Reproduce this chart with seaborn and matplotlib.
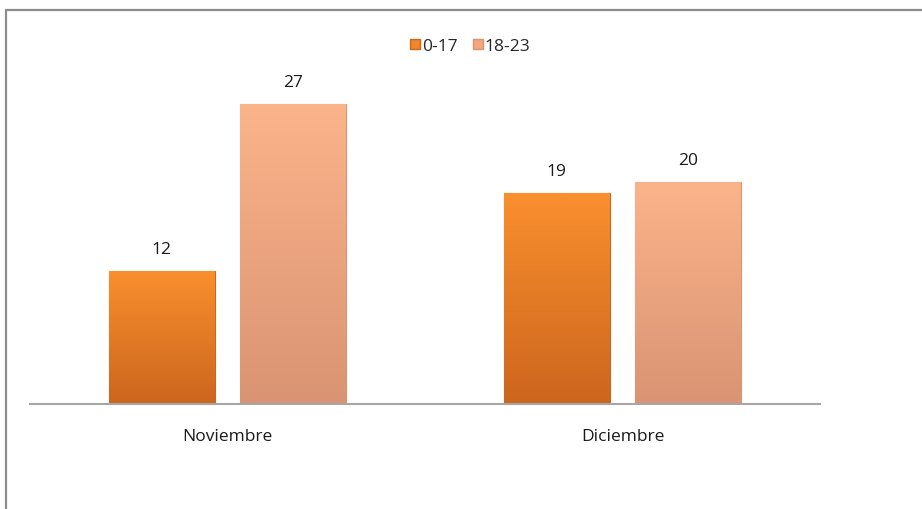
import numpy as np
import pandas as pd
import matplotlib
matplotlib.use("Agg")
import matplotlib.pyplot as plt
from matplotlib.lines import Line2D
from matplotlib.patches import Rectangle
import seaborn as sns

# data
months = ["Noviembre", "Diciembre"]
age_groups = ["0-17", "18-23"]
values_0_17 = [12, 19]
values_18_23 = [27, 20]

df = pd.DataFrame({
    "mes": months * 2,
    "edad": [age_groups[0]] * 2 + [age_groups[1]] * 2,
    "valor": values_0_17 + values_18_23,
})

sns.set_style("white")
plt.rcParams["font.family"] = ["Open Sans", "DejaVu Sans"]

# colours: (top, bottom) of the gradient for each series
base_colors = ["#F28529", "#F4A67C"]
grad_colors = [("#F98F2E", "#CC661D"), ("#FBB38A", "#D99473")]

fig = plt.figure(figsize=(9.22, 5.10), dpi=100)
ax = fig.add_axes([30 / 922, 105 / 510, 790 / 922, 333 / 510])

sns.barplot(
    data=df, x="mes", y="valor", hue="edad",
    hue_order=age_groups, order=months,
    palette=base_colors, width=0.668, gap=0.197,
    legend=False, ax=ax,
)

# vertical gradient inside each bar + value labels
for container, (top, bottom) in zip(ax.containers, grad_colors):
    cmap = matplotlib.colors.LinearSegmentedColormap.from_list("g", [bottom, top])
    for patch in container:
        x0, y0 = patch.get_x(), patch.get_y()
        w, h = patch.get_width(), patch.get_height()
        grad = np.linspace(0, 1, 100).reshape(-1, 1)
        im = ax.imshow(grad, extent=[x0, x0 + w, y0, y0 + h], origin="lower",
                       aspect="auto", cmap=cmap, zorder=patch.get_zorder() + 0.1)
        im.set_clip_path(patch)
        patch.set_edgecolor(bottom)
        patch.set_linewidth(0.8)
    ax.bar_label(container, padding=10, fontsize=12.5, color="#1A1A1A")

ax.set_xlim(-0.5, 1.5)
ax.set_ylim(0, 30)
ax.set_xlabel("")
ax.set_ylabel("")
ax.set_yticks([])
ax.tick_params(axis="x", length=0, pad=17, labelsize=12.5, labelcolor="#1A1A1A")
for side in ["top", "right", "left"]:
    ax.spines[side].set_visible(False)
ax.spines["bottom"].set_color("#A6A6A6")
ax.spines["bottom"].set_linewidth(1.5)

# legend on top
handles = [
    Line2D([0], [0], marker="s", linestyle="", markersize=7,
           markerfacecolor=c, markeredgecolor=g[1])
    for c, g in zip(base_colors, grad_colors)
]
fig.legend(handles, age_groups, loc="center", bbox_to_anchor=(470 / 922, 1 - 47 / 510),
           ncol=2, frameon=False, fontsize=12.5, handletextpad=0.05,
           columnspacing=0.8, handlelength=0.7)

# outer chart border (only top and left are visible in the crop)
fig.patches.append(Rectangle((6 / 922, -0.1), 1.2, (510 - 11) / 510 + 0.1,
                             transform=fig.transFigure, fill=False,
                             edgecolor="#8C8C8C", linewidth=1.6))

plt.savefig("out.png", dpi=100)
